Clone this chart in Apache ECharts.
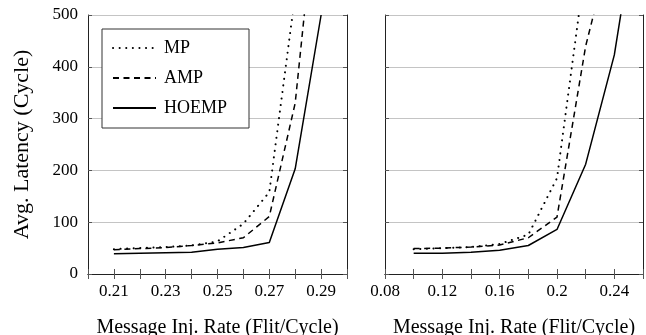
<!DOCTYPE html>
<html>
<head>
<meta charset="utf-8">
<script src="https://cdn.jsdelivr.net/npm/echarts@6/dist/echarts.min.js"></script>
<style>
  html, body { margin: 0; padding: 0; background: #fff; }
  #chart { width: 646px; height: 335px; }
</style>
</head>
<body>
<div id="chart"></div>
<script>
// left panel
const rateA = [0.21, 0.22, 0.23, 0.24, 0.25, 0.26, 0.27, 0.28, 0.29];
const mpA = [48, 50, 52, 55, 63, 97, 158, 540, 1200];
const ampA = [47, 49, 51, 55, 60, 70, 111, 330, 816];
const hoempA = [39, 40, 41, 42, 48, 51, 61, 203, 500];
const ticksA = ['0.21', '0.23', '0.25', '0.27', '0.29'];

// right panel
const rateB = [0.10, 0.12, 0.14, 0.16, 0.18, 0.20, 0.22, 0.24, 0.26];
const mpB = [48, 50, 52, 58, 76, 185, 600, 1100, 1600];
const ampB = [49, 50, 52, 56, 70, 110, 440, 660, 1200];
const hoempB = [40, 40, 42, 46, 55, 86, 212, 423, 770];
const ticksB = ['0.08', '0.12', '0.16', '0.2', '0.24'];

const yTicks = [0, 100, 200, 300, 400, 500];

const font = 'Liberation Serif';
const chart = echarts.init(document.getElementById('chart'));

const pairs = (xs, ys) => xs.map((x, i) => [x, ys[i]]);
const fmt = labels => v => {
  const s = String(Number(v.toFixed(2)));
  return labels.includes(s) ? s : '';
};

function xAxes(grid, min, max, step, labels) {
  const common = {
    type: 'value', gridIndex: grid, min: min, max: max, interval: step,
    splitLine: { show: false },
    axisLine: { show: true, lineStyle: { color: '#222', width: 1 } },
    axisTick: { show: true, inside: true, length: 5, lineStyle: { color: '#555' } }
  };
  return [
    Object.assign({}, common, {
      position: 'bottom',
      axisLabel: { formatter: fmt(labels), color: '#000', fontFamily: font, fontSize: 17, margin: 9 },
      name: 'Message Inj. Rate (Flit/Cycle)',
      nameLocation: 'middle', nameGap: 44,
      nameTextStyle: { color: '#000', fontFamily: font, fontSize: 20 }
    }),
    Object.assign({}, common, { position: 'top', axisLabel: { show: false } })
  ];
}

function yAxes(grid, showLabels) {
  const common = {
    type: 'value', gridIndex: grid, min: yTicks[0], max: yTicks[yTicks.length - 1],
    interval: 100,
    axisLine: { show: true, lineStyle: { color: '#222', width: 1 } },
    axisTick: { show: true, inside: true, length: 4, lineStyle: { color: '#555' } }
  };
  const left = Object.assign({}, common, {
    position: 'left',
    splitLine: { show: true, lineStyle: { color: '#c4c4c4', width: 1 } },
    axisLabel: { show: showLabels, color: '#000', fontFamily: font, fontSize: 17, margin: 10 }
  });
  if (showLabels) {
    left.name = 'Avg. Latency (Cycle)';
    left.nameLocation = 'middle';
    left.nameGap = 55;
    left.nameTextStyle = { color: '#000', fontFamily: font, fontSize: 22 };
  }
  const right = Object.assign({}, common, {
    position: 'right', splitLine: { show: false }, axisLabel: { show: false }
  });
  return [left, right];
}

function line(name, data, xi, yi, type, width, cap) {
  return {
    name: name, type: 'line', xAxisIndex: xi, yAxisIndex: yi,
    data: data, symbol: 'none', clip: true, animation: false,
    lineStyle: { color: '#000', width: width, type: type, cap: cap },
    itemStyle: { color: '#000' }
  };
}

const dotted = [0.1, 6.5];
const dashed = [6, 4.5];

chart.setOption({
  backgroundColor: '#fff',
  animation: false,
  grid: [
    { left: 88, top: 15, width: 259, height: 259, outerBoundsMode: 'none' },
    { left: 385, top: 15, width: 258, height: 259, outerBoundsMode: 'none' }
  ],
  legend: {
    data: ['MP', 'AMP', 'HOEMP'],
    orient: 'vertical',
    left: 102, top: 29,
    itemWidth: 43, itemHeight: 14, itemGap: 12,
    padding: [10, 22, 11, 10],
    borderColor: '#333', borderWidth: 1,
    backgroundColor: '#fff',
    itemStyle: { color: 'rgba(0,0,0,0)', borderWidth: 0 },
    textStyle: { color: '#000', fontFamily: font, fontSize: 18, padding: [0, 0, 0, 3] }
  },
  xAxis: [].concat(xAxes(0, 0.20, 0.30, 0.01, ticksA), xAxes(1, 0.08, 0.26, 0.02, ticksB)),
  yAxis: [].concat(yAxes(0, true), yAxes(1, false)),
  series: [
    line('MP', pairs(rateA, mpA), 0, 0, dotted, 2, 'round'),
    line('AMP', pairs(rateA, ampA), 0, 0, dashed, 1.5, 'butt'),
    line('HOEMP', pairs(rateA, hoempA), 0, 0, 'solid', 1.5, 'butt'),
    line('MP', pairs(rateB, mpB), 2, 2, dotted, 2, 'round'),
    line('AMP', pairs(rateB, ampB), 2, 2, dashed, 1.5, 'butt'),
    line('HOEMP', pairs(rateB, hoempB), 2, 2, 'solid', 1.5, 'butt')
  ]
});
</script>
</body>
</html>
